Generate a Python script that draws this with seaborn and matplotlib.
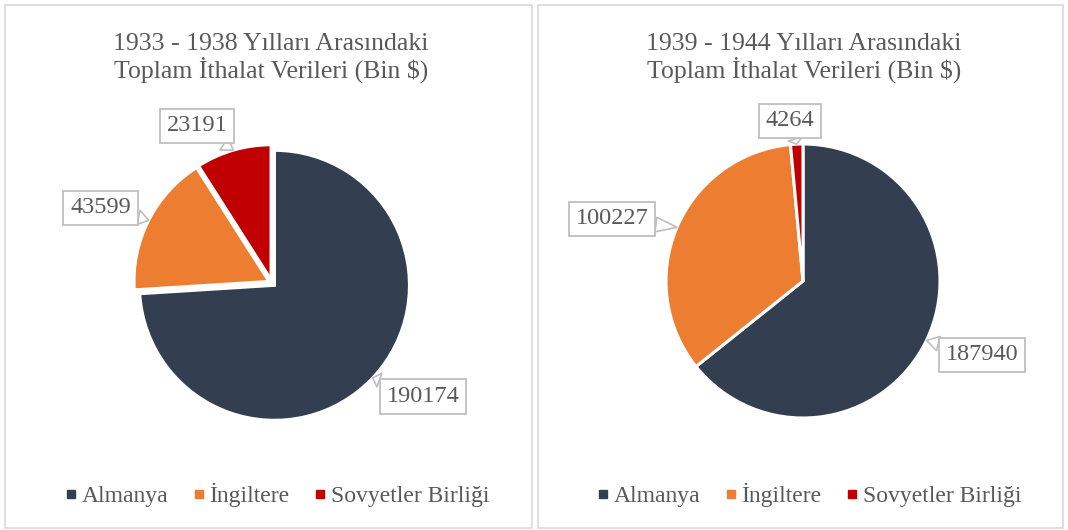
import numpy as np
import matplotlib.pyplot as plt
import seaborn as sns
from matplotlib.patches import Rectangle
from matplotlib.lines import Line2D

# veriler
ulkeler = ['Almanya', 'İngiltere', 'Sovyetler Birliği']
ithalat_1933_1938 = [190174, 43599, 23191]
ithalat_1939_1944 = [187940, 100227, 4264]
basliklar = ['1933 - 1938 Yılları Arasındaki\nToplam İthalat Verileri (Bin $)',
             '1939 - 1944 Yılları Arasındaki\nToplam İthalat Verileri (Bin $)']
renkler = sns.color_palette(['#333F50', '#ED7D31', '#C00000'])

sns.set_theme(style='white')
plt.rcParams['font.family'] = ['Liberation Serif', 'DejaVu Serif']
yazi_rengi = '#595959'

fig = plt.figure(figsize=(10.68, 5.30), dpi=100)
W, H = 1068, 530

# panel cerceveleri
for x0, x1 in [(5, 532), (538, 1063)]:
    fig.patches.append(Rectangle((x0 / W, 1 - 528 / H), (x1 - x0) / W, 523 / H,
                                 transform=fig.transFigure, fill=False,
                                 ec='#D9D9D9', lw=1.2))

# etiket kutularinin yerleri (yaricap birimi)
etiket_yerleri = [[(1.12, -0.84), (-1.27, 0.556), (-0.556, 1.163)],
                  [(1.307, -0.54), (-1.394, 0.453), (-0.095, 1.168)]]
merkezler = [(272, 283, 135), (803, 281, 137)]
patlat = [[0.025, 0.025, 0.025], [0, 0, 0]]
baslik_orta = [271, 804]
lejant_orta = [277, 809]

for i, veri in enumerate([ithalat_1933_1938, ithalat_1939_1944]):
    cx, cy, r = merkezler[i]
    s = 1.6
    ax = fig.add_axes([(cx - s * r) / W, (H - cy - s * r) / H, 2 * s * r / W, 2 * s * r / H])
    wedges, _ = ax.pie(veri, colors=renkler, startangle=90, counterclock=False,
                       explode=patlat[i], radius=1,
                       wedgeprops=dict(edgecolor='white', linewidth=2.2))
    ax.set_xlim(-s, s)
    ax.set_ylim(-s, s)
    ax.axis('off')
    for j, w in enumerate(wedges):
        aci = np.deg2rad((w.theta1 + w.theta2) / 2)
        uc = (np.cos(aci) * (1 + patlat[i][j]), np.sin(aci) * (1 + patlat[i][j]))
        ax.annotate(str(veri[j]), xy=uc, xytext=etiket_yerleri[i][j],
                    ha='center', va='center', fontsize=17.5, color=yazi_rengi,
                    bbox=dict(boxstyle='square,pad=0.28', fc='white', ec='#BFBFBF', lw=1.3),
                    arrowprops=dict(arrowstyle='wedge,tail_width=0.6', fc='white',
                                    ec='#BFBFBF', lw=1.2, shrinkA=0, shrinkB=0))
    fig.text(baslik_orta[i] / W, 1 - 58 / H, basliklar[i], ha='center', va='center',
             fontsize=18.5, color=yazi_rengi, linespacing=1.1)
    tutamac = [Line2D([], [], marker='s', ls='', color=c, markersize=6) for c in renkler]
    fig.legend(tutamac, ulkeler, loc='center', bbox_to_anchor=(lejant_orta[i] / W, 1 - 495 / H),
               ncol=3, frameon=False, fontsize=17, labelcolor=yazi_rengi,
               handlelength=0.5, handletextpad=0.2, columnspacing=1.05)

fig.savefig('out.png', dpi=100, facecolor='white')
